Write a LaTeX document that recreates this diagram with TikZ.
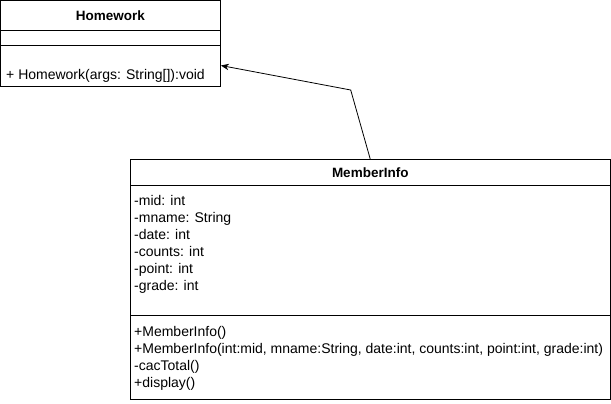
\documentclass[tikz,border=0pt]{standalone}
\usepackage{fontspec}
\setmainfont{Liberation Sans}
\usetikzlibrary{arrows.meta}
\begin{document}
\begin{tikzpicture}[
                x = 1pt, y = -1pt,
                font = \fontsize{14}{16}\selectfont,
                cls/.style = {draw, line width = 0.8pt, inner sep = 0mm},
                title/.style = {font = \fontsize{13.5}{16}\selectfont\bfseries},
                txt/.style = {anchor = base west, inner sep = 0mm},
                arr/.style = {draw, line width = 0.8pt, -{Stealth[length = 8pt, width = 6.5pt]}},
            ]
            \useasboundingbox (0,0) rectangle (611,404);

            \node (hw) [cls, title, minimum width = 220pt, minimum height = 29.5pt] at (110.5,15.25){Homework};
            \node (hwattr) [cls, minimum width = 220pt, minimum height = 15pt] at (110.5,37.75){};
            \node (hwops) [cls, minimum width = 220pt, minimum height = 41pt] at (110.5,65.5){};
            \node (hwm) [txt] at (6,79.5){+ Homework(args: String[]):void};

            \node (mi) [cls, title, minimum width = 479.5pt, minimum height = 25.5pt] at (370.25,172.25){MemberInfo};
            \node (miattr) [cls, minimum width = 479.5pt, minimum height = 130.7pt] at (370.25,250.35){};
            \node (miops) [cls, minimum width = 479.5pt, minimum height = 83.3pt] at (370.25,357.35){};

            \foreach \t [count = \i] in {-mid: int, -mname: String, -date: int, -counts: int, -point: int, -grade: int}
                \node (a\i) [txt] at (134,188.5+17*\i){\t};

            \node (m1) [txt] at (134,336){+MemberInfo()};
            \node (m2) [txt] at (134,353){+MemberInfo(int:mid, mname:String, date:int, counts:int, point:int, grade:int)};
            \node (m3) [txt] at (134,370){-cacTotal()};
            \node (m4) [txt] at (134,387){+display()};

            \coordinate (bend) at (350.7,90);
            \path[arr] (mi.north) -- (bend) -- (hwops.east);
        \end{tikzpicture}
\end{document}
